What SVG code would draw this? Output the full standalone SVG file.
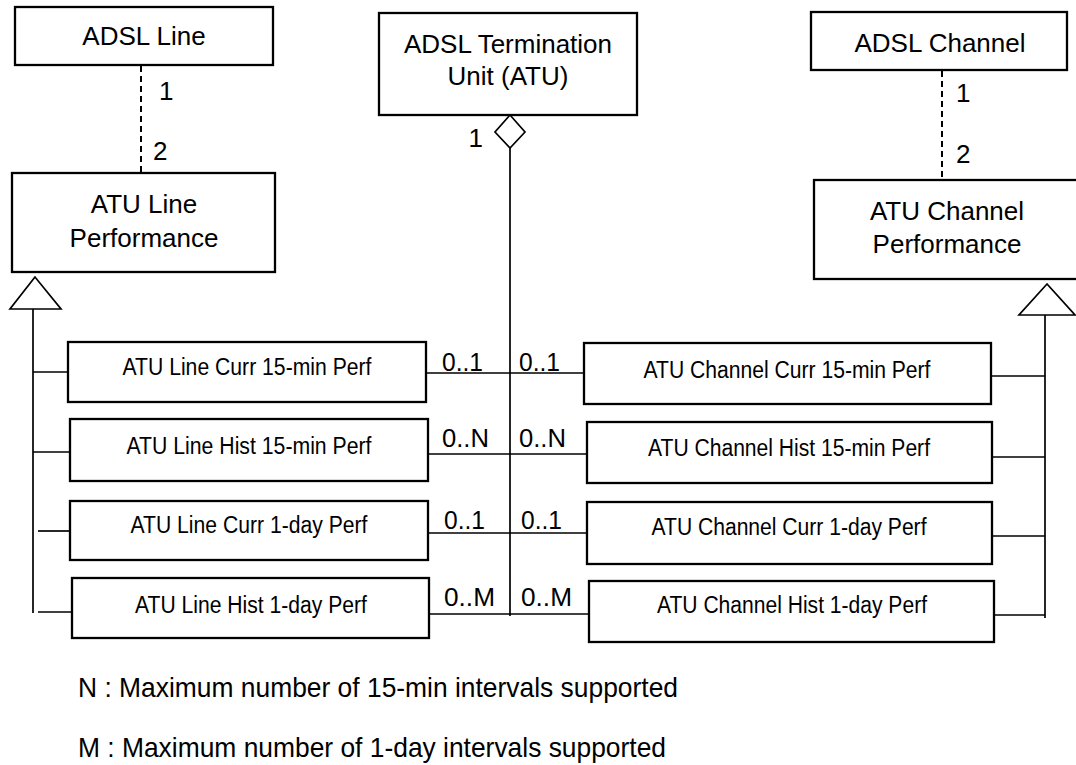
<svg xmlns="http://www.w3.org/2000/svg" width="1076" height="765" viewBox="0 0 1076 765">
<style>
  .box { fill: #fff; stroke: #000; stroke-width: 2.3; }
  .ln { fill: none; stroke: #000; stroke-width: 1.7; }
  .dash { fill: none; stroke: #000; stroke-width: 2; stroke-dasharray: 6 4; }
  .tri { fill: #fff; stroke: #000; stroke-width: 1.7; }
  text { font-family: "Liberation Sans", Arial, sans-serif; fill: #000; }
  .big { font-size: 26px; text-anchor: middle; }
  .sm { font-size: 23px; text-anchor: middle; }
  .lbl { font-size: 26px; }
  .note { font-size: 28px; }
</style>
<rect width="1076" height="765" fill="#fff"/>

<g id="connectors">
  <line class="dash" x1="141" y1="66" x2="141" y2="172"/>
  <line class="dash" x1="942" y1="71" x2="942" y2="180"/>
  <line class="ln" x1="510" y1="148" x2="510" y2="616"/>
  <polygon class="tri" points="510,115 525,132 510,148 495,132"/>
  <line class="ln" x1="426" y1="373" x2="584" y2="373"/>
  <line class="ln" x1="428" y1="454" x2="587" y2="454"/>
  <line class="ln" x1="428" y1="533" x2="587" y2="533"/>
  <line class="ln" x1="429" y1="614" x2="589" y2="614"/>
  <line class="ln" x1="33" y1="309" x2="33" y2="613"/>
  <polygon class="tri" points="35,277 10,309 61,309"/>
  <line class="ln" x1="33" y1="372" x2="68" y2="372"/>
  <line class="ln" x1="33" y1="452" x2="70" y2="452"/>
  <line class="ln" x1="38" y1="531" x2="70" y2="531"/>
  <line class="ln" x1="38" y1="612" x2="72" y2="612"/>
  <line class="ln" x1="1045" y1="315" x2="1045" y2="618"/>
  <polygon class="tri" points="1047,284 1019,315 1075,315"/>
  <line class="ln" x1="991" y1="376" x2="1045" y2="376"/>
  <line class="ln" x1="992" y1="457" x2="1045" y2="457"/>
  <line class="ln" x1="992" y1="536" x2="1045" y2="536"/>
  <line class="ln" x1="994" y1="615" x2="1045" y2="615"/>
  <text class="lbl" x="159" y="100">1</text>
  <text class="lbl" x="153" y="160">2</text>
  <text class="lbl" x="956" y="102">1</text>
  <text class="lbl" x="956" y="163">2</text>
  <text class="lbl" x="483" y="147" text-anchor="end">1</text>
  <text class="lbl" x="442" y="371" textLength="41" lengthAdjust="spacingAndGlyphs">0..1</text>
  <text class="lbl" x="519" y="371" textLength="41" lengthAdjust="spacingAndGlyphs">0..1</text>
  <text class="lbl" x="442" y="447" textLength="47" lengthAdjust="spacingAndGlyphs">0..N</text>
  <text class="lbl" x="519" y="447" textLength="47" lengthAdjust="spacingAndGlyphs">0..N</text>
  <text class="lbl" x="444" y="529" textLength="41" lengthAdjust="spacingAndGlyphs">0..1</text>
  <text class="lbl" x="521" y="529" textLength="41" lengthAdjust="spacingAndGlyphs">0..1</text>
  <text class="lbl" x="444" y="606" textLength="51" lengthAdjust="spacingAndGlyphs">0..M</text>
  <text class="lbl" x="521" y="606" textLength="51" lengthAdjust="spacingAndGlyphs">0..M</text>
</g>

<g id="adsl-line">
  <rect class="box" x="15" y="7" width="258" height="58"/>
  <text class="big" x="144" y="45">ADSL Line</text>
</g>
<g id="atu">
  <rect class="box" x="379" y="13" width="258" height="102"/>
  <text class="big" x="508" y="53">ADSL Termination</text>
  <text class="big" x="508" y="85">Unit (ATU)</text>
</g>
<g id="adsl-channel">
  <rect class="box" x="811" y="12" width="256" height="58"/>
  <text class="big" x="940" y="52">ADSL Channel</text>
</g>
<g id="atu-line-perf">
  <rect class="box" x="12" y="173" width="263" height="99"/>
  <text class="big" x="144" y="213">ATU Line</text>
  <text class="big" x="144" y="247">Performance</text>
</g>
<g id="atu-channel-perf">
  <rect class="box" x="814" y="180" width="266" height="99"/>
  <text class="big" x="947" y="220">ATU Channel</text>
  <text class="big" x="947" y="253">Performance</text>
</g>

<g id="line-curr-15">
  <rect class="box" x="68" y="342" width="358" height="60"/>
  <text class="sm" x="247" y="375" textLength="249" lengthAdjust="spacingAndGlyphs">ATU Line Curr 15-min Perf</text>
</g>
<g id="line-hist-15">
  <rect class="box" x="70" y="419" width="358" height="62"/>
  <text class="sm" x="249" y="454" textLength="245" lengthAdjust="spacingAndGlyphs">ATU Line Hist 15-min Perf</text>
</g>
<g id="line-curr-1d">
  <rect class="box" x="70" y="501" width="358" height="59"/>
  <text class="sm" x="249" y="533" textLength="237" lengthAdjust="spacingAndGlyphs">ATU Line Curr 1-day Perf</text>
</g>
<g id="line-hist-1d">
  <rect class="box" x="72" y="578" width="357" height="60"/>
  <text class="sm" x="251" y="613" textLength="232" lengthAdjust="spacingAndGlyphs">ATU Line Hist 1-day Perf</text>
</g>

<g id="channel-curr-15">
  <rect class="box" x="584" y="343" width="407" height="61"/>
  <text class="sm" x="787" y="378" textLength="287" lengthAdjust="spacingAndGlyphs">ATU Channel Curr 15-min Perf</text>
</g>
<g id="channel-hist-15">
  <rect class="box" x="587" y="422" width="405" height="61"/>
  <text class="sm" x="789" y="456" textLength="282" lengthAdjust="spacingAndGlyphs">ATU Channel Hist 15-min Perf</text>
</g>
<g id="channel-curr-1d">
  <rect class="box" x="587" y="502" width="405" height="62"/>
  <text class="sm" x="789" y="535" textLength="275" lengthAdjust="spacingAndGlyphs">ATU Channel Curr 1-day Perf</text>
</g>
<g id="channel-hist-1d">
  <rect class="box" x="589" y="581" width="405" height="61"/>
  <text class="sm" x="792" y="613" textLength="270" lengthAdjust="spacingAndGlyphs">ATU Channel Hist 1-day Perf</text>
</g>

<g id="notes">
  <text class="note" x="78" y="697" textLength="600" lengthAdjust="spacingAndGlyphs">N : Maximum number of 15-min intervals supported</text>
  <text class="note" x="78" y="757" textLength="588" lengthAdjust="spacingAndGlyphs">M : Maximum number of 1-day intervals supported</text>
</g>
</svg>
